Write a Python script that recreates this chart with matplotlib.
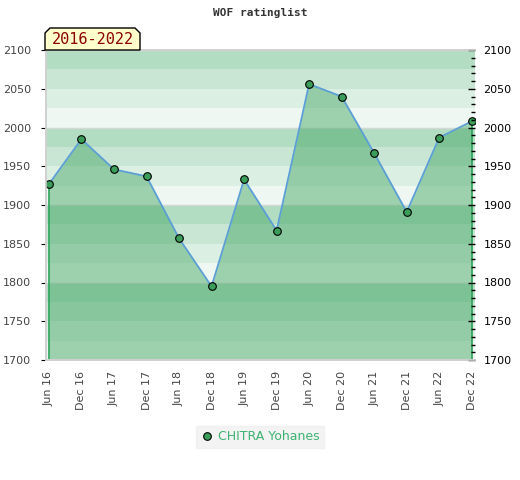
import numpy as np
import matplotlib
matplotlib.use("Agg")
import matplotlib.pyplot as plt
from matplotlib.patches import Polygon
from matplotlib.ticker import MultipleLocator

# ratings
periods = ["Jun 16", "Dec 16", "Jun 17", "Dec 17", "Jun 18", "Dec 18", "Jun 19",
           "Dec 19", "Jun 20", "Dec 20", "Jun 21", "Dec 21", "Jun 22", "Dec 22"]
ratings = [1927, 1985, 1946, 1937, 1857, 1795, 1933,
           1867, 2056, 2040, 1967, 1891, 1987, 2008]
player = "CHITRA Yohanes"
span_label = "2016-2022"
title = "WOF ratinglist"

y_min, y_max = 1700, 2100
band_colors = ["#eef7f1", "#dcefe3", "#c9e6d4", "#b3ddc3"]  # bottom -> top inside each 100

fig = plt.figure(figsize=(5.2, 4.8), dpi=100)
ax = fig.add_axes([46 / 520, 120 / 480, 429 / 520, 310 / 480])

x = np.arange(len(ratings))

# striped background, 25 points per band
for lo in range(y_min, y_max, 25):
    ax.axhspan(lo, lo + 25, color=band_colors[(lo // 25) % 4], lw=0, zorder=0)
for g in range(y_min, y_max + 1, 100):
    ax.axhline(g, color="#d4d8d5", lw=1, zorder=0.5)

ax.fill_between(x, ratings, y_min, color="#34a057", alpha=0.43, lw=0, zorder=1)
ax.vlines([x[0], x[-1]], y_min, [ratings[0], ratings[-1]], color="#2aa35a", lw=1.2, zorder=2)
ax.plot(x, ratings, color="#5b9fd6", lw=1.3, zorder=3)
ax.plot(x, ratings, "o", ms=5.5, mfc="#3a9d5a", mec="black", mew=0.8, zorder=4,
        label=player)

ax.set_xlim(-0.09, len(ratings) - 1 + 0.1)
ax.set_ylim(y_min, y_max)

ax.set_xticks(x)
ax.set_xticklabels(periods, rotation=90, fontsize=8, color="#444444")
ax.tick_params(axis="x", length=0, pad=8)
ax.yaxis.set_major_locator(MultipleLocator(50))
ax.tick_params(axis="y", which="both", left=False, labelleft=True, labelsize=8,
               labelcolor="#444444", pad=7)

ax2 = ax.twinx()
ax2.set_ylim(y_min, y_max)
ax2.yaxis.set_major_locator(MultipleLocator(50))
ax2.yaxis.set_minor_locator(MultipleLocator(10))
ax2.tick_params(axis="y", which="major", direction="in", length=5, width=1,
                labelsize=8, labelcolor="black", pad=6)
ax2.tick_params(axis="y", which="minor", direction="in", length=3, width=1)

for a in (ax, ax2):
    for side, sp in a.spines.items():
        sp.set_color("#d0d0d0")
        sp.set_linewidth(1.2)
    a.spines["right"].set_visible(False)

# title
fig.text(0.5, 1 - 13 / 480, title, ha="center", va="center", fontsize=8,
         family="DejaVu Sans Mono", weight="bold", color="#333333")

# period label box with clipped top corners
corners = [(45, 50), (45, 33), (50, 28), (135, 28), (140, 33), (140, 50)]
pts = [(px / 520, 1 - py / 480) for px, py in corners]
fig.patches.append(Polygon(pts, closed=True, transform=fig.transFigure,
                           facecolor="#ffffcc", edgecolor="black", lw=1, figure=fig))
fig.text(92.5 / 520, 1 - 40 / 480, span_label, ha="center", va="center", fontsize=11,
         family="DejaVu Sans Mono", color="#8b0000")

leg = fig.legend(loc="center", bbox_to_anchor=(260 / 520, 1 - 437 / 480),
                 frameon=True, fancybox=False, fontsize=9, handletextpad=0.4,
                 handlelength=1.0, borderpad=0.35, markerscale=1)
leg.get_frame().set_facecolor("#f0f0f0")
leg.get_frame().set_edgecolor("#f0f0f0")
for t in leg.get_texts():
    t.set_color("#3cb371")

fig.savefig("out.png", dpi=100)
